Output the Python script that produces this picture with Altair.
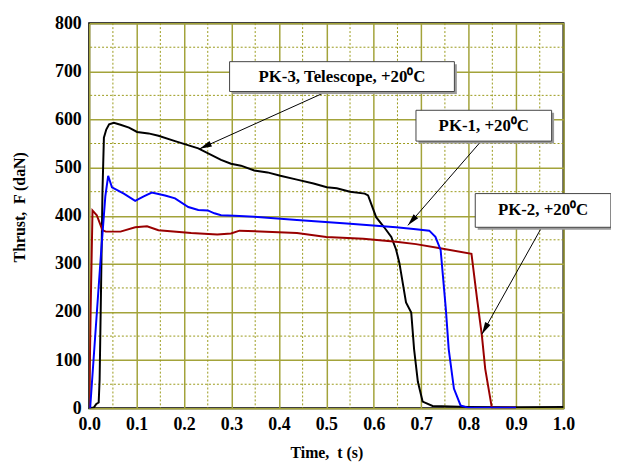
import math
import altair as alt
import pandas as pd

# ---- data ----
t_pk3 = [0, 0.01, 0.015, 0.02, 0.022, 0.025, 0.028, 0.031, 0.036, 0.042, 0.052, 0.066, 0.084, 0.101,
         0.125, 0.146, 0.181, 0.23, 0.278, 0.299, 0.32, 0.348, 0.376, 0.403, 0.438, 0.473, 0.501,
         0.522, 0.55, 0.581, 0.588, 0.605, 0.622, 0.637, 0.647, 0.654, 0.668, 0.679, 0.685, 0.693,
         0.703, 0.724, 0.8, 0.9, 1.0]
f_pk3 = [0, 2, 9, 12, 60, 250, 450, 562, 579, 590, 593, 589, 583, 574,
         571, 566, 555, 540, 516, 508, 504, 494, 490, 483, 475, 467, 459,
         457, 450, 446, 442, 397, 376, 356, 330, 302, 220, 199, 123, 55,
         14, 5, 3, 2, 3]

t_pk1 = [0, 0.002, 0.021, 0.026, 0.034, 0.040, 0.048, 0.073, 0.097, 0.115, 0.132, 0.16, 0.181,
         0.209, 0.23, 0.25, 0.264, 0.278, 0.306, 0.348, 0.438, 0.543, 0.647, 0.689, 0.717, 0.73,
         0.741, 0.752, 0.758, 0.769, 0.783, 0.8, 0.9]
f_pk1 = [0, 0, 267, 336, 440, 483, 459, 446, 431, 440, 448, 442, 436,
         418, 412, 411, 405, 401, 400, 398, 391, 384, 376, 372, 369, 356,
         329, 206, 123, 41, 6, 1, 1]

t_pk2 = [0, 0.003, 0.007, 0.016, 0.028, 0.035, 0.066, 0.097, 0.122, 0.146, 0.215, 0.27, 0.299,
         0.317, 0.438, 0.50, 0.578, 0.647, 0.689, 0.737, 0.806, 0.818, 0.828, 0.835, 0.849, 0.9]
f_pk2 = [0, 200, 411, 401, 370, 367, 367, 376, 378, 370, 364, 361, 363,
         369, 364, 356, 352, 346, 341, 333, 321, 226, 151, 82, 1, 1]

x_ticks = [0.0, 0.1, 0.2, 0.3, 0.4, 0.5, 0.6, 0.7, 0.8, 0.9, 1.0]
y_ticks = [0, 100, 200, 300, 400, 500, 600, 700, 800]
x_minor = [0.05, 0.15, 0.25, 0.35, 0.45, 0.55, 0.65, 0.75, 0.85, 0.95]
y_minor = [50, 150, 250, 350, 450, 550, 650, 750]

labels = ["PK-3, Telescope, +20\u2070C", "PK-1, +20\u2070C", "PK-2, +20\u2070C"]
box_x1 = [0.296, 0.689, 0.814]
box_x2 = [0.770, 0.975, 1.100]
box_y1 = [658, 555, 376]
box_y2 = [720, 619, 446]
arr_sx = [0.501, 0.823, 0.953]
arr_sy = [658, 551, 374]
arr_tx = [0.233, 0.672, 0.828]
arr_ty = [539, 380, 154]

W, H = 479, 389
FONT = "Liberation Serif"

# ---- tables ----
curves = pd.concat([
    pd.DataFrame({"t": t_pk3, "F": f_pk3, "s": "PK-3"}),
    pd.DataFrame({"t": t_pk2, "F": f_pk2, "s": "PK-2"}),
    pd.DataFrame({"t": t_pk1, "F": f_pk1, "s": "PK-1"}),
])

boxes = pd.DataFrame({
    "label": labels, "x1": box_x1, "x2": box_x2, "y1": box_y1, "y2": box_y2,
})
boxes["xc"] = (boxes.x1 + boxes.x2) / 2
boxes["yc"] = (boxes.y1 + boxes.y2) / 2
boxes["sx1"] = boxes.x1 + 2.5 / W
boxes["sx2"] = boxes.x2 + 2.5 / W
boxes["sy1"] = boxes.y1 - 2.5 * 800 / H
boxes["sy2"] = boxes.y2 - 2.5 * 800 / H

angles = []
for sx, sy, tx, ty in zip(arr_sx, arr_sy, arr_tx, arr_ty):
    dxp = (tx - sx) * W
    dyp = -(ty - sy) * H / 800
    angles.append(math.degrees(math.atan2(dxp, -dyp)) % 360)
arrows = pd.DataFrame({"sx": arr_sx, "sy": arr_sy, "tx": arr_tx, "ty": arr_ty, "ang": angles})

xs = alt.Scale(domain=[0, 1], nice=False, zero=False)
ys = alt.Scale(domain=[0, 800], nice=False)

x_axis = alt.Axis(values=x_ticks, format=".1f", title="Time,\u00a0\u00a0t (s)", grid=True,
                  titleY=45, titleBaseline="middle", labelPadding=7, labelFlush=False)
y_axis = alt.Axis(values=y_ticks, format="d", title="Thrust,\u00a0\u00a0F (daN)", grid=True,
                  titleX=-70, titleY=H / 2 - 9, titleAngle=-90, titleBaseline="middle",
                  titleAlign="center", labelPadding=8)

minor_x = alt.Chart(pd.DataFrame({"v": x_minor})).mark_rule(
    color="#9a9a1a", strokeWidth=1, strokeDash=[2, 2]).encode(x=alt.X("v:Q", scale=xs))
minor_y = alt.Chart(pd.DataFrame({"v": y_minor})).mark_rule(
    color="#9a9a1a", strokeWidth=1, strokeDash=[2, 2]).encode(y=alt.Y("v:Q", scale=ys))

lines = alt.Chart(curves).mark_line(strokeWidth=2, clip=True).encode(
    x=alt.X("t:Q", scale=xs, axis=x_axis),
    y=alt.Y("F:Q", scale=ys, axis=y_axis),
    color=alt.Color("s:N", scale=alt.Scale(domain=["PK-3", "PK-2", "PK-1"],
                                           range=["#000000", "#990000", "#0000ff"]), legend=None),
    detail="s:N",
    order=alt.Order("t:Q"),
)

arrow_lines = alt.Chart(arrows).mark_rule(color="black", strokeWidth=1).encode(
    x="sx:Q", y="sy:Q", x2="tx:Q", y2="ty:Q")
arrow_heads = alt.Chart(arrows).mark_point(
    shape="M0,0L0.5,2L-0.5,2Z", filled=True, color="black", opacity=1, size=150).encode(
    x="tx:Q", y="ty:Q", angle=alt.Angle("ang:Q", scale=None))

shadows = alt.Chart(boxes).mark_rect(color="#9a9a9a").encode(
    x="sx1:Q", x2="sx2:Q", y="sy1:Q", y2="sy2:Q")
rects = alt.Chart(boxes).mark_rect(fill="white", stroke="#444444", strokeWidth=1).encode(
    x="x1:Q", x2="x2:Q", y="y1:Q", y2="y2:Q")
texts = alt.Chart(boxes).mark_text(font=FONT, fontSize=17, fontWeight="bold", color="black",
                                   baseline="middle", align="center").encode(
    x="xc:Q", y="yc:Q", text="label:N")

chart = alt.layer(minor_x, minor_y, lines, arrow_lines, arrow_heads, shadows, rects, texts).properties(
    width=W, height=H,
    padding={"left": 82, "top": 13, "right": 48, "bottom": 60},
    autosize=alt.AutoSizeParams(type="none"),
).configure_view(
    stroke="black", strokeWidth=2
).configure_axis(
    labelFont=FONT, labelFontWeight="bold", labelFontSize=18, labelColor="black",
    titleFont=FONT, titleFontWeight="bold", titleFontSize=16, titleColor="black",
    ticks=False, tickSize=0, domain=False,
    gridColor="#a3a33a", gridWidth=1.5, gridOpacity=1,
)

chart.save("out.html", embed_options={"renderer": "svg", "actions": False})
